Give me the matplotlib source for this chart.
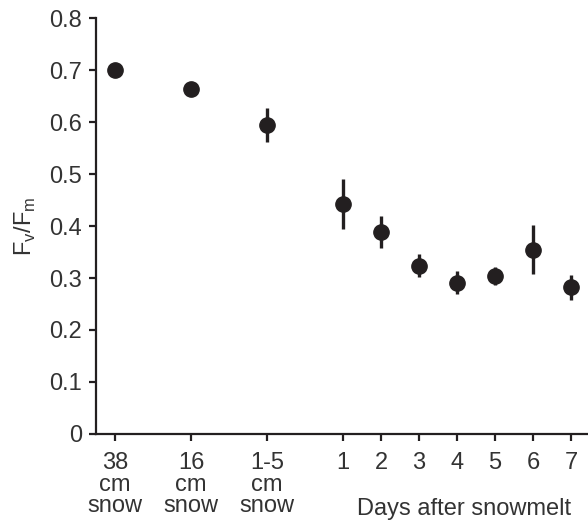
import matplotlib
matplotlib.use("Agg")
import matplotlib.pyplot as plt
import matplotlib.transforms as mtransforms

plt.rcParams['font.family'] = ['Liberation Sans', 'DejaVu Sans']
plt.rcParams['mathtext.fontset'] = 'custom'
plt.rcParams['mathtext.rm'] = 'Liberation Sans'

# Data
positions = [-5, -3, -1, 1, 2, 3, 4, 5, 6, 7]
tick_labels = ["38\ncm\nsnow", "16\ncm\nsnow", "1-5\ncm\nsnow",
               "1", "2", "3", "4", "5", "6", "7"]
fvfm = [0.700, 0.663, 0.594, 0.442, 0.389, 0.324, 0.291, 0.304, 0.354, 0.282]
err = [0.012, 0.005, 0.033, 0.048, 0.031, 0.022, 0.022, 0.017, 0.047, 0.024]
yticks = [0, 0.1, 0.2, 0.3, 0.4, 0.5, 0.6, 0.7, 0.8]
ytick_labels = ["0", "0.1", "0.2", "0.3", "0.4", "0.5", "0.6", "0.7", "0.8"]

c = '#231f20'
tc = '#333333'
fs = 17
fig = plt.figure(figsize=(5.88, 5.22), dpi=100)
ax = fig.add_axes([96/588, 1 - 434/522, 1 - 96/588, (434 - 18)/522])

ax.errorbar(positions, fvfm, yerr=err, fmt='o', color=c, ms=11,
            elinewidth=2.4, capsize=0, clip_on=False, zorder=3)

ax.set_xlim(-5.5, 7.45)
ax.set_ylim(0, 0.8)
ax.set_yticks(yticks)
ax.set_yticklabels(ytick_labels)
ax.set_xticks(positions)
ax.set_xticklabels(tick_labels, linespacing=0.97, va='top')

for s in ['top', 'right']:
    ax.spines[s].set_visible(False)
for s in ['left', 'bottom']:
    ax.spines[s].set_linewidth(1.6)
    ax.spines[s].set_color(c)

ax.tick_params(axis='both', direction='out', length=5, width=1.6, color=c,
               labelsize=fs, labelcolor=tc)
ax.tick_params(axis='x', pad=8)
ax.tick_params(axis='y', pad=5)

ax.set_ylabel(r'F$_\mathregular{v}$/F$_\mathregular{m}$', fontsize=fs,
              color=tc, labelpad=8)

trans = mtransforms.blended_transform_factory(ax.transData, fig.transFigure)
ax.text(4.2, 1 - 509/522, "Days after snowmelt", transform=trans,
        ha='center', va='center', fontsize=fs, color=tc)

fig.savefig("out.png", dpi=100)
